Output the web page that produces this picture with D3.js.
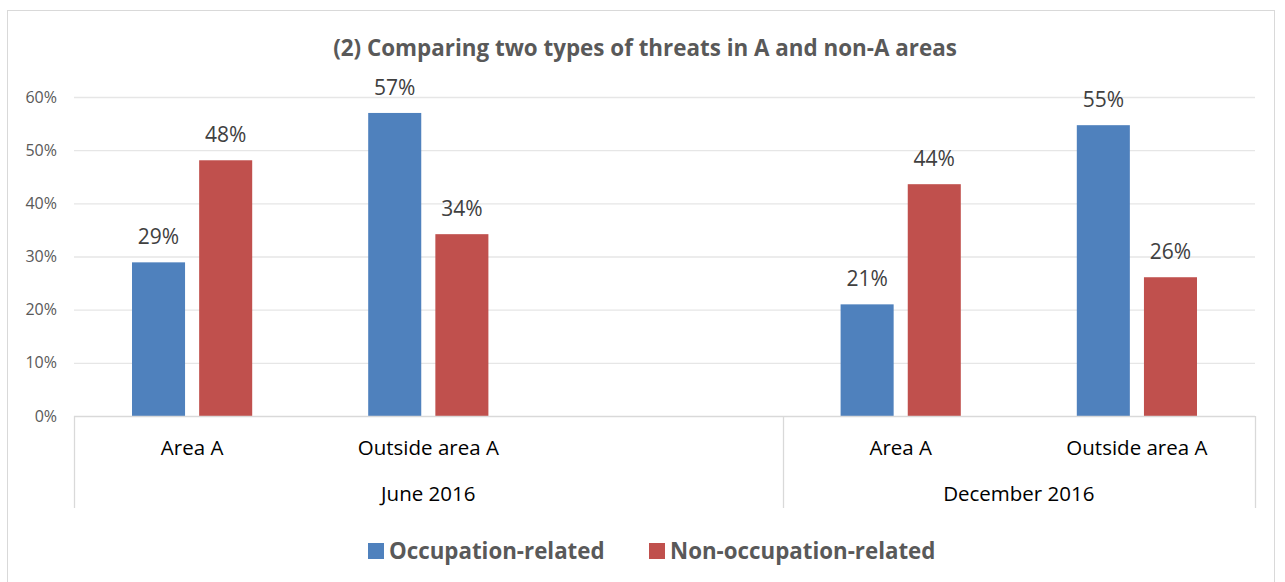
<!DOCTYPE html>
<html>
<head>
<meta charset="utf-8">
<script src="https://cdn.jsdelivr.net/npm/d3@7"></script>
<style>
  body { margin: 0; background: #fff; }
  text { font-family: "Open Sans", sans-serif; }
</style>
</head>
<body>
<script>
// Data
var periods = ["June 2016", "December 2016"];
var areas = [["Area A", "Outside area A", ""], ["Area A", "Outside area A"]];
var seriesNames = ["Occupation-related", "Non-occupation-related"];
var occupation = [28.9, 57.0, null, 21.0, 54.7];
var nonOccupation = [48.1, 34.2, null, 43.6, 26.1];
var yTicks = [0, 10, 20, 30, 40, 50, 60];

var colors = ["#4F81BD", "#C0504D"];

var width = 1285, height = 582;
var margin = {top: 97, left: 74, right: 30, bottom: 166};
var w = 1255 - margin.left, h = 416 - margin.top;

var svg = d3.select("body").append("svg")
  .attr("width", width)
  .attr("height", height);

// outer frame
svg.append("rect")
  .attr("x", 7.5).attr("y", 10.5)
  .attr("width", 1267).attr("height", 590)
  .attr("fill", "#fff").attr("stroke", "#d9d9d9");

var g = svg.append("g")
  .attr("transform", "translate(" + margin.left + "," + margin.top + ")");

// flatten categories
var cats = [];
periods.forEach(function(p, i) {
  areas[i].forEach(function(a, j) {
    cats.push({period: p, area: a, key: p + "|" + j});
  });
});
cats.forEach(function(c, i) {
  c.values = [occupation[i], nonOccupation[i]];
});

var x = d3.scaleBand().domain(cats.map(function(d) { return d.key; })).range([0, w]);
var xs = d3.scaleBand().domain([0, 1]).range([58, x.bandwidth() - 58]).paddingInner(0.21);
var y = d3.scaleLinear().domain([0, 60]).range([h, 0]);

// gridlines
g.append("g").selectAll("line")
  .data(yTicks.slice(1))
  .enter().append("line")
  .attr("x1", 0).attr("x2", w)
  .attr("y1", function(d) { return y(d) + 0.5; })
  .attr("y2", function(d) { return y(d) + 0.5; })
  .attr("stroke", "#e6e6e6").attr("stroke-width", 1.3);

// y labels
g.append("g").selectAll("text")
  .data(yTicks)
  .enter().append("text")
  .attr("x", -17)
  .attr("y", function(d) { return y(d); })
  .attr("dy", "0.35em")
  .attr("text-anchor", "end")
  .attr("fill", "#595959")
  .style("font-size", "16px")
  .text(function(d) { return d + "%"; });

// bars
var groups = g.selectAll(".cat")
  .data(cats)
  .enter().append("g")
  .attr("class", "cat")
  .attr("transform", function(d) { return "translate(" + x(d.key) + ",0)"; });

groups.selectAll("rect")
  .data(function(d) { return d.values.map(function(v, i) { return {v: v, i: i}; }).filter(function(e) { return e.v != null; }); })
  .enter().append("rect")
  .attr("x", function(d) { return xs(d.i); })
  .attr("width", xs.bandwidth())
  .attr("y", function(d) { return y(d.v); })
  .attr("height", function(d) { return h - y(d.v); })
  .attr("fill", function(d) { return colors[d.i]; });

groups.selectAll("text.val")
  .data(function(d) { return d.values.map(function(v, i) { return {v: v, i: i}; }).filter(function(e) { return e.v != null; }); })
  .enter().append("text")
  .attr("class", "val")
  .attr("x", function(d) { return xs(d.i) + xs.bandwidth() / 2; })
  .attr("y", function(d) { return y(d.v) - 18; })
  .attr("text-anchor", "middle")
  .attr("fill", "#404040")
  .style("font-size", "21px")
  .text(function(d) { return Math.round(d.v) + "%"; });

// x axis line
g.append("line")
  .attr("x1", 0).attr("x2", w)
  .attr("y1", h + 0.5).attr("y2", h + 0.5)
  .attr("stroke", "#d9d9d9").attr("stroke-width", 1.3);

// category labels
groups.append("text")
  .attr("x", x.bandwidth() / 2)
  .attr("y", h + 39)
  .attr("text-anchor", "middle")
  .attr("fill", "#000")
  .style("font-size", "20.5px")
  .text(function(d) { return d.area; });

// period dividers and labels
var bounds = [0];
var acc = 0;
areas.forEach(function(a) { acc += a.length; bounds.push(acc); });
var divX = bounds.map(function(b, i) { return b < cats.length ? x(cats[b].key) : w; });

g.append("g").selectAll("line")
  .data(divX)
  .enter().append("line")
  .attr("x1", function(d) { return Math.round(d) + 0.5; })
  .attr("x2", function(d) { return Math.round(d) + 0.5; })
  .attr("y1", h).attr("y2", h + 92)
  .attr("stroke", "#d9d9d9").attr("stroke-width", 1.3);

g.append("g").selectAll("text")
  .data(periods)
  .enter().append("text")
  .attr("x", function(d, i) { return (divX[i] + divX[i + 1]) / 2; })
  .attr("y", h + 85)
  .attr("text-anchor", "middle")
  .attr("fill", "#000")
  .style("font-size", "20.5px")
  .text(function(d) { return d; });

// title
svg.append("text")
  .attr("x", 645)
  .attr("y", 56)
  .attr("text-anchor", "middle")
  .attr("fill", "#595959")
  .style("font-size", "22.4px")
  .style("font-weight", "bold")
  .text("(2) Comparing two types of threats in A and non-A areas");

// legend
var legendX = [368, 649];
var leg = svg.selectAll(".legend")
  .data(seriesNames)
  .enter().append("g")
  .attr("class", "legend")
  .attr("transform", function(d, i) { return "translate(" + legendX[i] + ",543)"; });

leg.append("rect")
  .attr("width", 16).attr("height", 16)
  .attr("fill", function(d, i) { return colors[i]; });

leg.append("text")
  .attr("x", 21).attr("y", 8)
  .attr("dy", "0.35em")
  .attr("fill", "#595959")
  .style("font-size", "22.3px")
  .style("font-weight", "bold")
  .text(function(d) { return d; });
</script>
</body>
</html>
